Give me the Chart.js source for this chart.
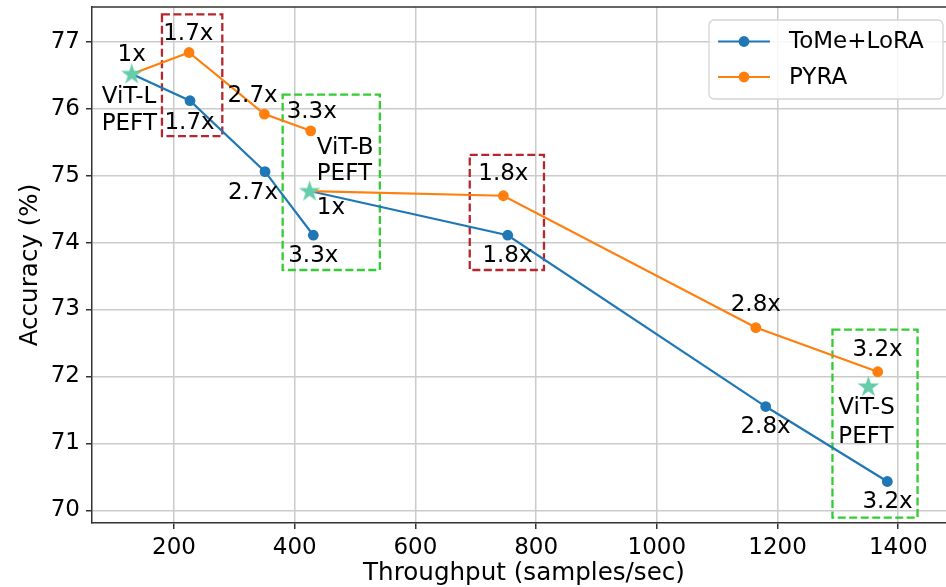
<!DOCTYPE html>
<html>
<head>
<meta charset="utf-8">
<script src="https://cdn.jsdelivr.net/npm/chart.js@4.4.1/dist/chart.umd.min.js"></script>
<style>
html,body{margin:0;padding:0;background:#fff;overflow:hidden;}
#wrap{width:946px;height:587px;overflow:hidden;position:relative;}
canvas{display:block;}
</style>
</head>
<body>
<div id="wrap"><canvas id="c" width="956" height="587"></canvas></div>
<script>
// ---------------- data ----------------
const tomeL_throughput = [130, 226.5, 350.8, 430.8];
const tomeL_acc        = [76.52, 76.12, 75.06, 74.11];
const tomeB_throughput = [424.7, 752.9, 1180.4, 1381.9];
const tomeB_acc        = [74.77, 74.11, 71.55, 70.43];
const pyraL_throughput = [130, 224.9, 349.7, 426.5];
const pyraL_acc        = [76.52, 76.84, 75.92, 75.67];
const pyraB_throughput = [424.7, 745.7, 1164, 1366];
const pyraB_acc        = [74.77, 74.70, 72.73, 72.07];
const baseline_names      = ['ViT-L', 'ViT-B', 'ViT-S'];
const baseline_throughput = [130, 424.7, 1350.5];
const baseline_acc        = [76.52, 74.77, 71.85];
const seriesNames = ['ToMe+LoRA', 'PYRA'];
const xTicks = [200, 400, 600, 800, 1000, 1200, 1400];
const yTicks = [70, 71, 72, 73, 74, 75, 76, 77];

// text annotations (data coordinates)
const noteText = ['1x','ViT-L','PEFT','1.7x','1.7x','2.7x','2.7x','3.3x','ViT-B','PEFT','1x','3.3x','1.8x','1.8x','2.8x','3.2x','ViT-S','PEFT','2.8x','3.2x'];
const noteX    = [129.9, 80.2, 80.2, 223.7, 225.7, 330.1, 330.9, 428.2, 436.5, 436.5, 436.5, 430.8, 745.7, 752.6, 1164, 1365.7, 1300.7, 1300.7, 1180.1, 1382.3];
const noteY    = [76.80, 76.17, 75.77, 77.115, 75.79, 76.19, 74.74, 75.95, 75.42, 75.02, 74.52, 73.80, 75.02, 73.80, 73.07, 72.40, 71.53, 71.10, 71.25, 70.13];
const noteAlign= ['center','left','left','center','center','center','center','center','left','left','left','center','center','center','center','center','left','left','center','center'];

// highlight boxes (data coordinates)
const boxX0 = [180, 380, 690, 1291];
const boxX1 = [280, 541, 813, 1432];
const boxY0 = [75.59, 73.59, 73.59, 69.89];
const boxY1 = [77.41, 76.21, 75.31, 72.70];
const boxKind = ['red', 'green', 'red', 'green'];

// ---------------- styles ----------------
const BLUE = '#1f77b4', ORANGE = '#ff7f0e', STAR = '#66cdaa';
const BOXCOL = {red: '#b5272d', green: '#33cc33'};
const FONT = 'DejaVu Sans';
Chart.defaults.font.family = FONT;
Chart.defaults.color = '#000';

function starImage(r) {
  const c = document.createElement('canvas');
  const s = Math.ceil(r * 2 + 4);
  c.width = s; c.height = s;
  const g = c.getContext('2d');
  g.translate(s / 2, s / 2 + r * 0.05);
  g.beginPath();
  for (let i = 0; i < 10; i++) {
    const rad = i % 2 === 0 ? r : r * 0.38;
    const a = -Math.PI / 2 + i * Math.PI / 5;
    const px = rad * Math.cos(a), py = rad * Math.sin(a);
    if (i === 0) g.moveTo(px, py); else g.lineTo(px, py);
  }
  g.closePath();
  g.fillStyle = STAR; g.fill();
  return c;
}
const starImg = starImage(11.3);

function pts(xs, ys) { return xs.map((v, i) => ({x: v, y: ys[i]})); }

function lineDs(label, xs, ys, color, order) {
  return {
    type: 'line', label, data: pts(xs, ys),
    borderColor: color, backgroundColor: color, borderWidth: 2.2,
    pointRadius: xs.map((_, i) => i === 0 ? 0 : 5.4),
    pointHoverRadius: 0, pointBorderWidth: 0,
    tension: 0, fill: false, order
  };
}

function noPad(s) { s.paddingTop = 0; s.paddingBottom = 0; s.paddingLeft = 0; s.paddingRight = 0; }

const overlay = {
  id: 'overlay',
  beforeDatasetsDraw(chart) {
    const {ctx, scales: {x, y}} = chart;
    ctx.save();
    ctx.lineWidth = 2.3;
    ctx.setLineDash([8, 3.5]);
    for (let i = 0; i < boxX0.length; i++) {
      ctx.strokeStyle = BOXCOL[boxKind[i]];
      const X0 = x.getPixelForValue(boxX0[i]), X1 = x.getPixelForValue(boxX1[i]);
      const Y0 = y.getPixelForValue(boxY0[i]), Y1 = y.getPixelForValue(boxY1[i]);
      ctx.strokeRect(X0, Y1, X1 - X0, Y0 - Y1);
    }
    ctx.restore();
  },
  afterDatasetsDraw(chart) {
    const {ctx, scales: {x, y}} = chart;
    ctx.save();
    ctx.font = '23px "' + FONT + '"';
    ctx.fillStyle = '#000';
    ctx.textBaseline = 'middle';
    for (let i = 0; i < noteText.length; i++) {
      ctx.textAlign = noteAlign[i];
      ctx.fillText(noteText[i], x.getPixelForValue(noteX[i]), y.getPixelForValue(noteY[i]));
    }
    ctx.restore();
  },
  afterDraw(chart) {
    const {ctx, chartArea: ca} = chart;
    ctx.save();
    // top spine
    ctx.strokeStyle = '#333'; ctx.lineWidth = 1.5;
    ctx.beginPath(); ctx.moveTo(ca.left - 0.75, ca.top); ctx.lineTo(ca.right, ca.top); ctx.stroke();
    // legend
    const lx = ca.right - 247, ly = ca.top + 13, lw = 234, lh = 79;
    ctx.beginPath();
    ctx.roundRect(lx, ly, lw, lh, 5);
    ctx.fillStyle = 'rgba(255,255,255,0.85)'; ctx.fill();
    ctx.strokeStyle = '#d5d5d5'; ctx.lineWidth = 1.3; ctx.stroke();
    const cols = [BLUE, ORANGE];
    ctx.font = '23px "' + FONT + '"';
    ctx.textBaseline = 'middle'; ctx.textAlign = 'left';
    for (let i = 0; i < seriesNames.length; i++) {
      const cy = ly + 21.5 + i * 35.5;
      ctx.strokeStyle = cols[i]; ctx.lineWidth = 2.2;
      ctx.beginPath(); ctx.moveTo(lx + 9, cy); ctx.lineTo(lx + 61, cy); ctx.stroke();
      ctx.fillStyle = cols[i];
      ctx.beginPath(); ctx.arc(lx + 35, cy, 5.4, 0, Math.PI * 2); ctx.fill();
      ctx.fillStyle = '#000';
      ctx.fillText(seriesNames[i], lx + 80, cy + 1);
    }
    ctx.restore();
  }
};

const chart = new Chart(document.getElementById('c'), {
  type: 'line',
  data: {
    datasets: [
      {
        type: 'scatter', label: 'PEFT baselines',
        data: pts(baseline_throughput, baseline_acc),
        pointStyle: starImg, pointRadius: 11, pointHoverRadius: 11,
        backgroundColor: STAR, borderColor: STAR, showLine: false, order: 0
      },
      lineDs(seriesNames[1], pyraL_throughput, pyraL_acc, ORANGE, 1),
      lineDs(seriesNames[1], pyraB_throughput, pyraB_acc, ORANGE, 1),
      lineDs(seriesNames[0], tomeL_throughput, tomeL_acc, BLUE, 2),
      lineDs(seriesNames[0], tomeB_throughput, tomeB_acc, BLUE, 2)
    ]
  },
  options: {
    responsive: false,
    animation: false,
    events: [],
    layout: {autoPadding: false, padding: {left: 0, right: 0, top: 7, bottom: 0}},
    plugins: {legend: {display: false}, tooltip: {enabled: false}},
    scales: {
      x: {
        type: 'linear', min: 64.1, max: 1495.7,
        afterFit(s) { s.height = 64; noPad(s); },
        afterBuildTicks(s) { s.ticks = xTicks.map(v => ({value: v})); },
        ticks: {font: {size: 23}, padding: 5, maxRotation: 0, color: '#000', callback: v => String(v)},
        grid: {color: '#cbcbcb', lineWidth: 1.5, drawTicks: true, tickLength: 6, tickColor: '#333', tickWidth: 1.5},
        border: {display: true, color: '#333', width: 1.5},
        title: {display: true, text: 'Throughput (samples/sec)', font: {size: 24.6, lineHeight: 1.1}, padding: {top: 0, bottom: 0}, color: '#000'}
      },
      y: {
        type: 'linear', min: 69.81, max: 77.52,
        afterFit(s) { s.width = 92; noPad(s); },
        afterBuildTicks(s) { s.ticks = yTicks.map(v => ({value: v})); },
        ticks: {font: {size: 23}, padding: 6, color: '#000', callback: v => String(v)},
        grid: {color: '#cbcbcb', lineWidth: 1.5, drawTicks: true, tickLength: 6, tickColor: '#333', tickWidth: 1.5},
        border: {display: true, color: '#333', width: 1.5},
        title: {display: true, text: 'Accuracy (%)', font: {size: 24.6, lineHeight: 1.2}, padding: {top: 16, bottom: 0}, color: '#000'}
      }
    }
  },
  plugins: [overlay]
});
</script>
</body>
</html>
